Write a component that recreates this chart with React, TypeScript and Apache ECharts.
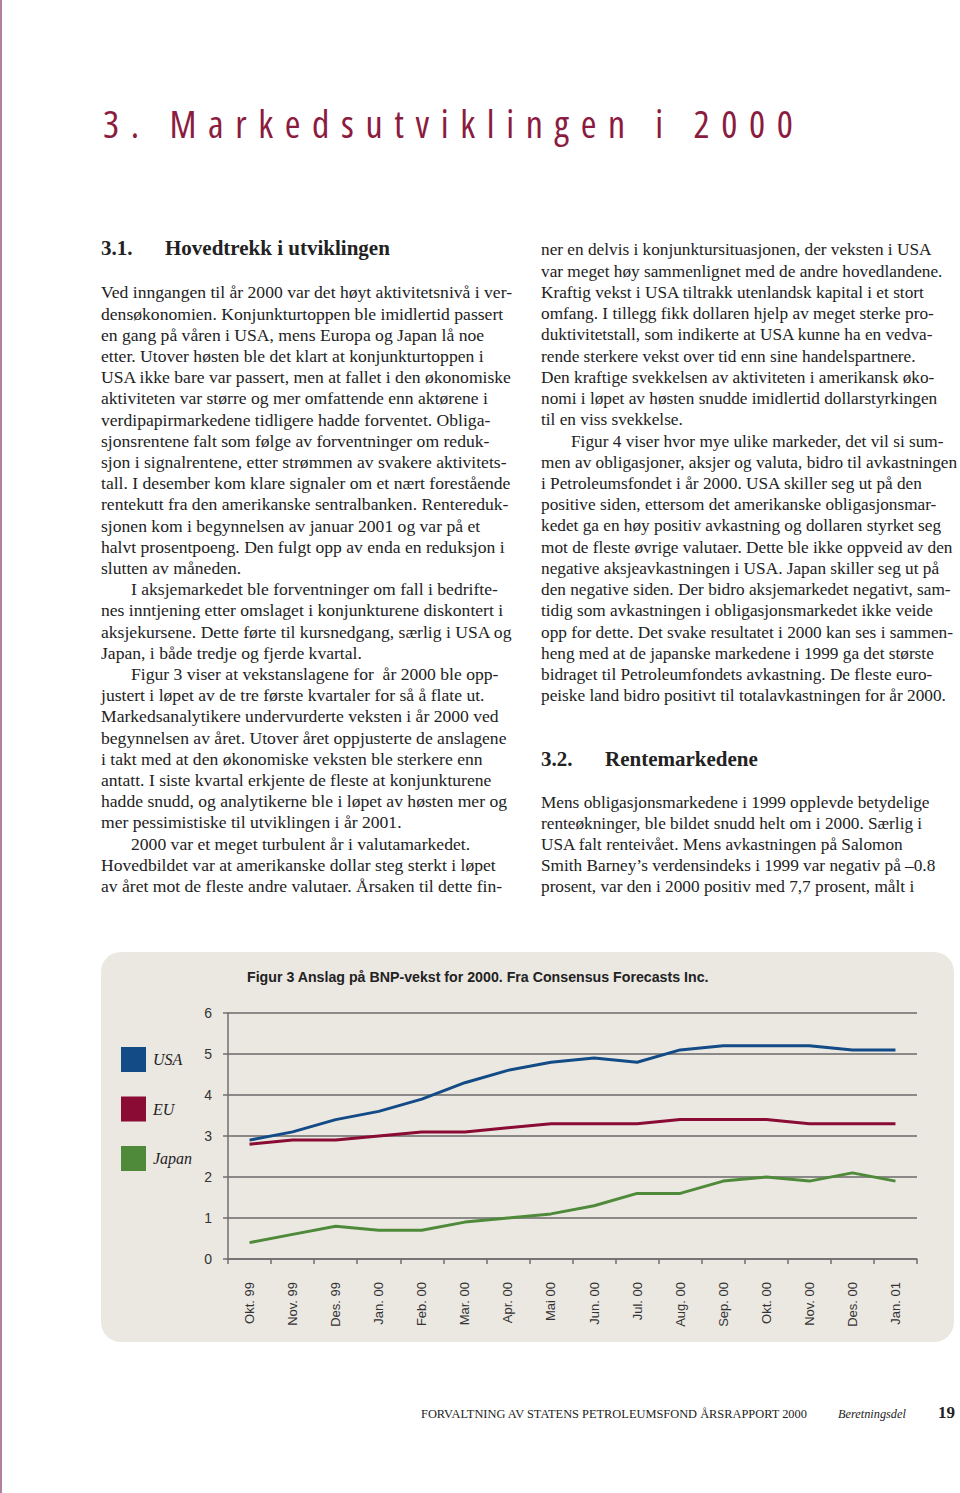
import React, { useEffect, useLayoutEffect, useRef } from "react";
import * as echarts from "echarts";

const categories = ["Okt. 99", "Nov. 99", "Des. 99", "Jan. 00", "Feb. 00", "Mar. 00", "Apr. 00", "Mai 00", "Jun. 00", "Jul. 00", "Aug. 00", "Sep. 00", "Okt. 00", "Nov. 00", "Des. 00", "Jan. 01"];
const usa = [2.9, 3.1, 3.4, 3.6, 3.9, 4.3, 4.6, 4.8, 4.9, 4.8, 5.1, 5.2, 5.2, 5.2, 5.1, 5.1];
const eu = [2.8, 2.9, 2.9, 3.0, 3.1, 3.1, 3.2, 3.3, 3.3, 3.3, 3.4, 3.4, 3.4, 3.3, 3.3, 3.3];
const japan = [0.4, 0.6, 0.8, 0.7, 0.7, 0.9, 1.0, 1.1, 1.3, 1.6, 1.6, 1.9, 2.0, 1.9, 2.1, 1.9];
const seriesNames = ["USA", "EU", "Japan"];
const seriesColors = ["#134b87", "#8a0b33", "#4f8a3b"];
const figureTitle = "Figur 3 Anslag på BNP-vekst for 2000. Fra Consensus Forecasts Inc.";

type Line = { t: string; indent?: boolean };

const leftColumn: Line[] = [
  { t: "Ved inngangen til år 2000 var det høyt aktivitetsnivå i ver-" },
  { t: "densøkonomien. Konjunkturtoppen ble imidlertid passert" },
  { t: "en gang på våren i USA, mens Europa og Japan lå noe" },
  { t: "etter. Utover høsten ble det klart at konjunkturtoppen i" },
  { t: "USA ikke bare var passert, men at fallet i den økonomiske" },
  { t: "aktiviteten var større og mer omfattende enn aktørene i" },
  { t: "verdipapirmarkedene tidligere hadde forventet. Obliga-" },
  { t: "sjonsrentene falt som følge av forventninger om reduk-" },
  { t: "sjon i signalrentene, etter strømmen av svakere aktivitets-" },
  { t: "tall. I desember kom klare signaler om et nært forestående" },
  { t: "rentekutt fra den amerikanske sentralbanken. Rentereduk-" },
  { t: "sjonen kom i begynnelsen av januar 2001 og var på et" },
  { t: "halvt prosentpoeng. Den fulgt opp av enda en reduksjon i" },
  { t: "slutten av måneden." },
  { t: "I aksjemarkedet ble forventninger om fall i bedrifte-", indent: true },
  { t: "nes inntjening etter omslaget i konjunkturene diskontert i" },
  { t: "aksjekursene. Dette førte til kursnedgang, særlig i USA og" },
  { t: "Japan, i både tredje og fjerde kvartal." },
  { t: "Figur 3 viser at vekstanslagene for  år 2000 ble opp-", indent: true },
  { t: "justert i løpet av de tre første kvartaler for så å flate ut." },
  { t: "Markedsanalytikere undervurderte veksten i år 2000 ved" },
  { t: "begynnelsen av året. Utover året oppjusterte de anslagene" },
  { t: "i takt med at den økonomiske veksten ble sterkere enn" },
  { t: "antatt. I siste kvartal erkjente de fleste at konjunkturene" },
  { t: "hadde snudd, og analytikerne ble i løpet av høsten mer og" },
  { t: "mer pessimistiske til utviklingen i år 2001." },
  { t: "2000 var et meget turbulent år i valutamarkedet.", indent: true },
  { t: "Hovedbildet var at amerikanske dollar steg sterkt i løpet" },
  { t: "av året mot de fleste andre valutaer. Årsaken til dette fin-" },
];

const rightColumnA: Line[] = [
  { t: "ner en delvis i konjunktursituasjonen, der veksten i USA" },
  { t: "var meget høy sammenlignet med de andre hovedlandene." },
  { t: "Kraftig vekst i USA tiltrakk utenlandsk kapital i et stort" },
  { t: "omfang. I tillegg fikk dollaren hjelp av meget sterke pro-" },
  { t: "duktivitetstall, som indikerte at USA kunne ha en vedva-" },
  { t: "rende sterkere vekst over tid enn sine handelspartnere." },
  { t: "Den kraftige svekkelsen av aktiviteten i amerikansk øko-" },
  { t: "nomi i løpet av høsten snudde imidlertid dollarstyrkingen" },
  { t: "til en viss svekkelse." },
  { t: "Figur 4 viser hvor mye ulike markeder, det vil si sum-", indent: true },
  { t: "men av obligasjoner, aksjer og valuta, bidro til avkastningen" },
  { t: "i Petroleumsfondet i år 2000. USA skiller seg ut på den" },
  { t: "positive siden, ettersom det amerikanske obligasjonsmar-" },
  { t: "kedet ga en høy positiv avkastning og dollaren styrket seg" },
  { t: "mot de fleste øvrige valutaer. Dette ble ikke oppveid av den" },
  { t: "negative aksjeavkastningen i USA. Japan skiller seg ut på" },
  { t: "den negative siden. Der bidro aksjemarkedet negativt, sam-" },
  { t: "tidig som avkastningen i obligasjonsmarkedet ikke veide" },
  { t: "opp for dette. Det svake resultatet i 2000 kan ses i sammen-" },
  { t: "heng med at de japanske markedene i 1999 ga det største" },
  { t: "bidraget til Petroleumfondets avkastning. De fleste euro-" },
  { t: "peiske land bidro positivt til totalavkastningen for år 2000." },
];

const rightColumnB: Line[] = [
  { t: "Mens obligasjonsmarkedene i 1999 opplevde betydelige" },
  { t: "renteøkninger, ble bildet snudd helt om i 2000. Særlig i" },
  { t: "USA falt renteivået. Mens avkastningen på Salomon" },
  { t: "Smith Barney’s verdensindeks i 1999 var negativ på –0.8" },
  { t: "prosent, var den i 2000 positiv med 7,7 prosent, målt i" },
];

const serif = "'Liberation Serif', 'Times New Roman', serif";

function TextBlock({ lines, left, top, lh, size }: { lines: Line[]; left: number; top: number; lh: number; size: number }) {
  return (
    <div style={{ position: "absolute", left, top, fontFamily: serif, fontSize: size, color: "#222", whiteSpace: "pre" }}>
      {lines.map((l, i) => (
        <div key={i} style={{ height: lh, lineHeight: lh + "px", paddingLeft: l.indent ? 30 : 0 }}>
          {l.t}
        </div>
      ))}
    </div>
  );
}

function PageHeading() {
  const ref = useRef<HTMLSpanElement>(null);
  const text = "3. Markedsutviklingen i 2000";
  useLayoutEffect(() => {
    const el = ref.current;
    if (!el) return;
    el.style.letterSpacing = "0px";
    const w0 = el.getBoundingClientRect().width;
    const n = text.length;
    const ls = (690 - w0) / (n - 1);
    el.style.letterSpacing = ls + "px";
  }, []);
  return (
    <span
      ref={ref}
      style={{
        position: "absolute",
        left: 103,
        top: 98,
        fontFamily: "'Open Sans', 'DejaVu Sans', sans-serif",
        fontStretch: "condensed",
        fontWeight: 400,
        fontSize: 38,
        color: "#8b1c3f",
        whiteSpace: "pre",
        lineHeight: "50px",
      }}
    >
      {text}
    </span>
  );
}

function Chart() {
  const ref = useRef<HTMLDivElement>(null);
  useEffect(() => {
    if (!ref.current) return;
    const chart = echarts.init(ref.current, undefined, { renderer: "svg" });
    const data = [usa, eu, japan];
    chart.setOption({
      animation: false,
      backgroundColor: "transparent",
      title: {
        text: figureTitle,
        left: 146,
        top: 18,
        padding: 0,
        textStyle: {
          fontFamily: "'Liberation Sans', Arial, sans-serif",
          fontWeight: "bold",
          fontSize: 14.2,
          color: "#222",
        },
      },
      legend: {
        orient: "vertical",
        left: 20,
        top: 95,
        padding: 0,
        itemWidth: 25,
        itemHeight: 25,
        itemGap: 24.5,
        icon: "rect",
        data: seriesNames,
        textStyle: { fontFamily: serif, fontStyle: "italic", fontSize: 16, color: "#222", padding: [0, 0, 0, 2] },
      },
      grid: { left: 127, right: 37, top: 61, bottom: 83 },
      xAxis: {
        type: "category",
        data: categories,
        boundaryGap: true,
        axisLine: { lineStyle: { color: "#6f6f6f", width: 1.5 } },
        axisTick: { show: true, length: 5, lineStyle: { color: "#6f6f6f", width: 1.5 } },
        axisLabel: {
          rotate: 90,
          margin: 23,
          fontFamily: "'Liberation Sans', Arial, sans-serif",
          fontSize: 13,
          color: "#333",
          interval: 0,
        },
      },
      yAxis: {
        type: "value",
        min: 0,
        max: 6,
        interval: 1,
        axisLine: { show: true, lineStyle: { color: "#6f6f6f", width: 1.5 } },
        axisTick: { show: true, length: 5, lineStyle: { color: "#6f6f6f", width: 1.5 } },
        splitLine: { show: true, lineStyle: { color: "#6a6a6a", width: 1.5 } },
        axisLabel: {
          margin: 16,
          fontFamily: "'Liberation Sans', Arial, sans-serif",
          fontSize: 14,
          color: "#333",
        },
      },
      series: seriesNames.map((name, i) => ({
        name,
        type: "line",
        data: data[i],
        symbol: "none",
        color: seriesColors[i],
        lineStyle: { width: 3, color: seriesColors[i] },
      })),
    });
    return () => chart.dispose();
  }, []);
  return <div ref={ref} style={{ position: "absolute", left: 0, top: 0, width: 853, height: 390 }} />;
}

export default function App() {
  return (
    <div style={{ position: "absolute", left: 0, top: 0, width: 960, height: 1493, background: "#fff", overflow: "hidden" }}>
      <div style={{ position: "absolute", left: 0, top: 0, width: 2, height: 1493, background: "#b0809e" }} />
      <PageHeading />
      <div style={{ position: "absolute", left: 101, top: 235, fontFamily: serif, fontSize: 21, fontWeight: "bold", color: "#222", lineHeight: "26px", whiteSpace: "pre" }}>
        3.1.
      </div>
      <div style={{ position: "absolute", left: 165, top: 235, fontFamily: serif, fontSize: 21, fontWeight: "bold", color: "#222", lineHeight: "26px", whiteSpace: "pre" }}>
        Hovedtrekk i utviklingen
      </div>
      <TextBlock lines={leftColumn} left={101} top={282.4} lh={21.21} size={17.6} />
      <TextBlock lines={rightColumnA} left={541} top={239.4} lh={21.24} size={17.25} />
      <div style={{ position: "absolute", left: 541, top: 746, fontFamily: serif, fontSize: 21, fontWeight: "bold", color: "#222", lineHeight: "26px", whiteSpace: "pre" }}>
        3.2.
      </div>
      <div style={{ position: "absolute", left: 605, top: 746, fontFamily: serif, fontSize: 21, fontWeight: "bold", color: "#222", lineHeight: "26px", whiteSpace: "pre" }}>
        Rentemarkedene
      </div>
      <TextBlock lines={rightColumnB} left={541} top={792.4} lh={21} size={17.25} />
      <div style={{ position: "absolute", left: 101, top: 952, width: 853, height: 390, background: "#ebe8e2", borderRadius: 20 }}>
        <Chart />
      </div>
      <div style={{ position: "absolute", left: 421, top: 1406, fontFamily: serif, fontSize: 12.4, color: "#222", whiteSpace: "pre", lineHeight: "16px" }}>
        FORVALTNING AV STATENS PETROLEUMSFOND ÅRSRAPPORT 2000
      </div>
      <div style={{ position: "absolute", left: 838, top: 1406, fontFamily: serif, fontSize: 12.3, fontStyle: "italic", color: "#222", whiteSpace: "pre", lineHeight: "16px" }}>
        Beretningsdel
      </div>
      <div style={{ position: "absolute", left: 938, top: 1402, fontFamily: serif, fontSize: 17, fontWeight: "bold", color: "#222", whiteSpace: "pre", lineHeight: "22px" }}>
        19
      </div>
    </div>
  );
}
